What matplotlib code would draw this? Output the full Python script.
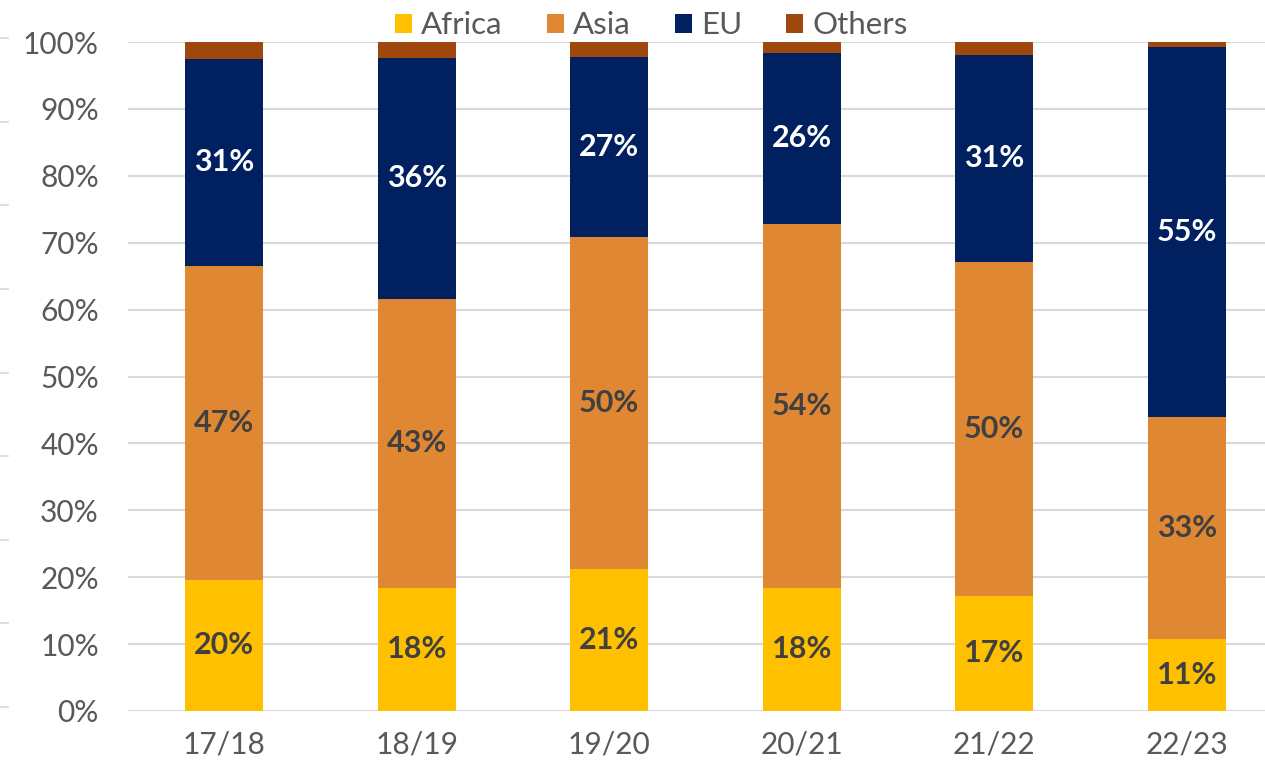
import matplotlib
matplotlib.use("Agg")
import matplotlib.pyplot as plt
from matplotlib.lines import Line2D
import numpy as np

seasons = ["17/18", "18/19", "19/20", "20/21", "21/22", "22/23"]
africa = [19.6, 18.4, 21.2, 18.4, 17.2, 10.8]
asia = [46.9, 43.2, 49.7, 54.4, 49.9, 33.1]
eu = [31.0, 36.0, 26.9, 25.6, 31.0, 55.4]
others = [2.5, 2.4, 2.2, 1.6, 1.9, 0.7]
yticks = [0, 10, 20, 30, 40, 50, 60, 70, 80, 90, 100]

series = [("Africa", africa, "#FFC000", "#404040"),
          ("Asia", asia, "#E08733", "#404040"),
          ("EU", eu, "#002060", "white"),
          ("Others", others, "#9E480E", None)]

plt.rcParams['font.family'] = ['Lato', 'DejaVu Sans']

fig = plt.figure(figsize=(12.65, 7.65), dpi=100)
ax = fig.add_axes([128/1265, 54/765, 1155/1265, 669/765])

x = np.arange(len(seasons))
bottom = np.zeros(len(seasons))
for name, vals, col, tcol in series:
    vals = np.array(vals)
    ax.bar(x, vals, 0.405, bottom=bottom, color=col, label=name, zorder=3)
    if tcol is not None:
        for xi, b, v in zip(x, bottom, vals):
            ax.text(xi, b + v / 2, f"{round(v):.0f}%", ha="center", va="center",
                    fontsize=22, fontweight="bold", color=tcol, zorder=4)
    bottom = bottom + vals

ax.set_xlim(-0.5, len(seasons) - 0.5)
ax.set_ylim(0, 100)
ax.set_yticks(yticks)
ax.set_yticklabels([f"{t}%" for t in yticks])
ax.set_xticks(x)
ax.set_xticklabels(seasons)
ax.tick_params(axis="both", length=0, labelsize=21.5, labelcolor="#595959")
ax.tick_params(axis="y", pad=21)
ax.tick_params(axis="x", pad=14)
for s in ax.spines.values():
    s.set_visible(False)
ax.grid(axis="y", color="#D9D9D9", linewidth=1.5, zorder=0)
ax.set_axisbelow(True)

# faint marks at far left edge
for k in range(9):
    yp = (765 - 38 - k * (707 - 38) / 8) / 765
    fig.add_artist(Line2D([0, 8/1265], [yp, yp], color="#D9D9D9", linewidth=1.2,
                          transform=fig.transFigure))

fig.legend(loc="upper center", bbox_to_anchor=(0.515, 1.022), ncol=4, frameon=False,
           fontsize=22.5, labelcolor="#595959", handlelength=0.55, handleheight=0.55,
           handletextpad=0.3, columnspacing=1.4)

fig.savefig("out.png", dpi=100)
